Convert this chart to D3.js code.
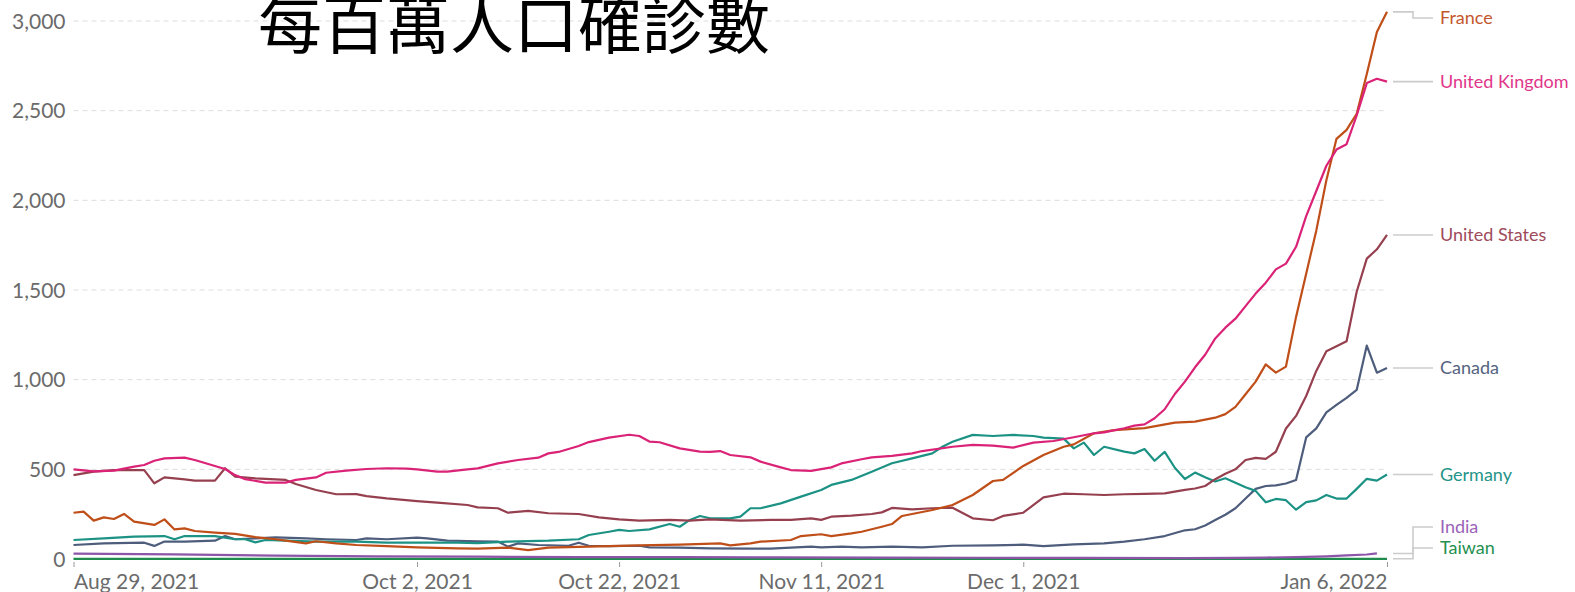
<!DOCTYPE html>
<html>
<head>
<meta charset="utf-8">
<script src="https://cdn.jsdelivr.net/npm/d3@7"></script>
<style>
  html, body { margin: 0; padding: 0; background: #fff; }
  svg { display: block; font-family: Lato, 'Noto Sans', sans-serif; }
</style>
</head>
<body>
<svg id="chart" width="1575" height="592"></svg>
<script>
  // dates are day offsets from START, values are cases per million
  var START = '2021-08-29';
  var END = '2022-01-06';

  var TITLE = '每百萬人口確診數';

  var tickDates = ['2021-08-29', '2021-10-02', '2021-10-22', '2021-11-11', '2021-12-01', '2022-01-06'];
  var yTicks = [0, 500, 1000, 1500, 2000, 2500, 3000];

  var countries = ['France', 'United Kingdom', 'United States', 'Canada', 'Germany', 'India', 'Taiwan'];

  var france = [[0,258],[1,264],[2,214],[3,232],[4,223],[5,251],[6,208],[8,190],[9,221],[10,165],[11,171],[12,156],
    [14,147],[16,140],[18,122],[20,110],[21,102],[23,87],[24,99],[26,87],[28,78],[31,72],[34,65],[38,59],[40,58],
    [43,63],[45,50],[47,63],[51,69],[53,72],[56,76],[60,80],[64,87],[65,76],[67,87],[68,97],[71,106],[72,128],
    [74,138],[75,128],[77,143],[78,152],[80,180],[81,195],[82,240],[85,273],[87,301],[89,357],[91,435],[92,441],
    [94,519],[96,580],[98,626],[99,639],[101,701],[103,719],[106,730],[109,760],[111,766],[113,788],[114,808],
    [115,848],[116,919],[117,989],[118,1085],[119,1039],[120,1073],[121,1350],[122,1591],[123,1831],[124,2112],
    [125,2343],[126,2393],[127,2483],[128,2704],[129,2939],[130,3051]];

  var uk = [[0,500],[2,489],[4,493],[6,515],[7,524],[8,548],[9,561],[11,565],[12,552],[13,535],[15,502],[16,468],
    [17,445],[19,426],[21,426],[22,441],[24,455],[25,481],[27,493],[29,502],[31,506],[33,504],[34,500],[36,487],
    [37,487],[39,500],[40,505],[42,533],[44,552],[46,565],[47,589],[48,597],[50,630],[51,652],[53,677],[55,693],
    [56,686],[57,655],[58,651],[60,617],[62,599],[63,597],[64,602],[65,580],[67,567],[68,543],[70,511],[71,496],
    [73,491],[75,511],[76,533],[78,556],[79,567],[81,575],[83,589],[84,602],[87,626],[89,636],[91,632],[93,621],
    [95,649],[97,658],[99,679],[101,701],[102,706],[104,729],[105,744],[106,751],[107,785],[108,835],[109,920],
    [110,989],[111,1069],[112,1139],[113,1230],[114,1290],[115,1340],[116,1410],[117,1480],[118,1541],[119,1615],
    [120,1647],[121,1741],[122,1912],[123,2052],[124,2193],[125,2283],[126,2313],[127,2473],[128,2654],[129,2678],
    [130,2662]];

  var us = [[0,468],[2,487],[4,496],[7,496],[8,422],[9,455],[11,444],[12,437],[14,437],[15,506],[16,459],[18,450],
    [21,441],[22,418],[24,385],[26,361],[28,362],[29,351],[31,338],[34,323],[36,314],[39,301],[40,288],[42,283],
    [43,258],[45,268],[47,255],[50,251],[52,232],[54,221],[56,214],[59,218],[61,214],[63,221],[66,214],[69,218],
    [71,218],[73,227],[74,218],[75,236],[77,242],[79,251],[80,260],[81,285],[83,277],[85,283],[87,286],[89,227],
    [91,216],[92,240],[94,258],[96,344],[98,364],[100,361],[102,357],[104,361],[106,363],[108,366],[110,385],
    [111,393],[112,407],[113,445],[114,475],[115,500],[116,552],[117,564],[118,558],[119,598],[120,728],[121,798],
    [122,909],[123,1049],[124,1159],[125,1186],[126,1214],[127,1490],[128,1675],[129,1727],[130,1807]];

  var canada = [[0,78],[3,87],[7,91],[8,73],[9,97],[11,97],[14,102],[15,128],[16,110],[18,115],[20,121],[23,115],
    [25,110],[28,106],[29,115],[31,110],[34,119],[35,115],[37,102],[40,99],[42,97],[43,69],[44,87],[46,78],[49,74],
    [50,91],[51,74],[53,72],[56,74],[57,65],[60,63],[63,59],[67,58],[69,58],[71,63],[73,69],[74,65],[76,69],[78,65],
    [81,69],[84,65],[87,74],[91,76],[94,80],[96,72],[99,82],[102,87],[104,97],[106,110],[108,128],[110,160],
    [111,166],[112,187],[113,217],[114,247],[115,283],[116,337],[117,391],[118,407],[119,411],[120,421],[121,441],
    [122,678],[123,728],[124,818],[125,859],[126,899],[127,943],[128,1190],[129,1039],[130,1065]];

  var germany = [[0,106],[3,115],[6,125],[9,128],[10,110],[11,128],[14,128],[16,110],[17,110],[18,93],[19,106],
    [21,102],[24,97],[28,97],[31,91],[34,91],[38,91],[40,89],[43,97],[47,102],[50,110],[51,134],[53,152],[54,162],
    [55,156],[57,165],[59,195],[60,180],[61,218],[62,240],[63,227],[65,227],[66,236],[67,283],[68,283],[70,310],
    [72,348],[74,385],[75,413],[77,441],[79,487],[81,534],[83,561],[85,589],[86,626],[87,654],[89,692],[91,686],
    [93,692],[95,686],[96,677],[98,671],[99,617],[100,649],[101,580],[102,626],[104,599],[105,589],[106,613],
    [107,548],[108,597],[109,509],[110,446],[111,482],[112,456],[113,432],[114,450],[115,425],[116,400],[117,380],
    [118,316],[119,335],[120,328],[121,275],[122,317],[123,327],[124,357],[125,337],[126,337],[127,391],[128,447],
    [129,437],[130,471]];

  var india = [[0,30],[10,26],[20,19],[30,15],[40,13],[50,11],[60,10],[70,9],[80,8],[90,7],[100,6],[110,5],
    [115,6],[118,8],[121,11],[124,15],[126,20],[128,25],[129,31]];

  var taiwan = [[0,0.4],[30,0.3],[60,0.3],[90,0.5],[110,0.6],[130,1.2]];

  var seriesValues = [france, uk, us, canada, germany, india, taiwan];
  var colors = ['#BF4E18', '#DA2377', '#96404F', '#4E5D7C', '#1C9285', '#8D55A8', '#1F8C4E'];
  var labelColors = ['#C4582C', '#E0368A', '#9E4B5B', '#55637F', '#249487', '#9A62B8', '#24904F'];

  var svg = d3.select('#chart'),
      margin = { left: 73.5, right: 188, top: 21, bottom: 33 },
      width = 1575,
      height = 592,
      parse = d3.utcParse('%Y-%m-%d'),
      start = parse(START),
      dayOf = function(d) { return d3.utcDay.offset(start, d[0]); };

  var x = d3.scaleUtc()
        .domain([start, parse(END)])
        .range([margin.left, width - margin.right]),

      y = d3.scaleLinear()
        .domain([0, 3000])
        .range([height - margin.bottom, margin.top]);

  // gridlines
  svg.append('g')
    .attr('class', 'grid')
    .selectAll('line')
    .data(yTicks)
    .enter()
      .append('line')
      .attr('x1', x.range()[0])
      .attr('x2', x.range()[1])
      .attr('y1', function(d) { return y(d); })
      .attr('y2', function(d) { return y(d); })
      .attr('stroke', '#dddddd')
      .attr('stroke-width', 1)
      .attr('stroke-dasharray', '5,4');

  // y axis labels
  var yAxis = svg.append('g')
    .attr('transform', 'translate(' + (margin.left - 8) + ',0)')
    .call(d3.axisLeft(y).tickValues(yTicks).tickFormat(d3.format(',')).tickSize(0));
  yAxis.select('.domain').remove();
  yAxis.selectAll('text')
    .attr('x', 0)
    .attr('dy', '0.34em')
    .attr('fill', '#6b6b6b')
    .style('font-family', 'Lato')
    .style('font-size', '21px');

  // x axis
  var xAxis = svg.append('g')
    .attr('transform', 'translate(0,' + (y(0) + 3) + ')')
    .call(d3.axisBottom(x)
      .tickValues(tickDates.map(parse))
      .tickFormat(d3.utcFormat('%b %-d, %Y'))
      .tickSize(5)
      .tickPadding(7));
  xAxis.select('.domain').remove();
  xAxis.selectAll('.tick line').attr('stroke', '#999');
  xAxis.selectAll('text')
    .attr('fill', '#6b6b6b')
    .style('font-family', 'Lato')
    .style('font-size', '21px')
    .attr('text-anchor', function(d, i) {
      if (i === 0) return 'start';
      if (i === tickDates.length - 1) return 'end';
      return 'middle';
    });

  // lines
  var line = d3.line()
    .x(function(d) { return x(dayOf(d)); })
    .y(function(d) { return y(d[1]); });

  var order = [6, 5, 3, 4, 2, 0, 1];
  svg.append('g')
    .attr('class', 'lines')
    .selectAll('path')
    .data(order)
    .enter()
      .append('path')
      .attr('d', function(i) { return line(seriesValues[i]); })
      .attr('fill', 'none')
      .attr('stroke', function(i) { return colors[i]; })
      .attr('stroke-width', 2.2)
      .attr('stroke-linejoin', 'round');

  // end labels, nudged apart
  var labels = countries.map(function(name, i) {
    var vals = seriesValues[i];
    var yEnd = y(vals[vals.length - 1][1]);
    return { name: name, i: i, y0: yEnd, y: yEnd };
  });
  var gap = 21, minY = 18, maxY = 548;
  labels.sort(function(a, b) { return a.y - b.y; });
  labels.forEach(function(l, k) {
    l.y = Math.max(minY, Math.min(maxY, l.y));
    if (k > 0 && l.y < labels[k - 1].y + gap) l.y = labels[k - 1].y + gap;
  });
  for (var k = labels.length - 1; k >= 0; k--) {
    if (k === labels.length - 1) labels[k].y = Math.min(labels[k].y, maxY);
    else if (labels[k].y > labels[k + 1].y - gap) labels[k].y = labels[k + 1].y - gap;
  }

  var lx0 = x.range()[1] + 6, lx1 = lx0 + 40, stepX = lx0 + 20;
  var lab = svg.append('g').attr('class', 'labels');

  lab.selectAll('path')
    .data(labels)
    .enter()
      .append('path')
      .attr('d', function(d) {
        return 'M' + lx0 + ',' + d.y0 + 'H' + stepX + 'V' + d.y + 'H' + lx1;
      })
      .attr('fill', 'none')
      .attr('stroke', '#cccccc')
      .attr('stroke-width', 1.6);

  lab.selectAll('text')
    .data(labels)
    .enter()
      .append('text')
      .attr('x', lx1 + 7)
      .attr('y', function(d) { return d.y; })
      .attr('dy', '0.35em')
      .attr('fill', function(d) { return labelColors[d.i]; })
      .style('font-family', 'Lato')
      .style('font-size', '18px')
      .text(function(d) { return d.name; });

  // title, partly cut off at the top like the source
  svg.append('text')
    .attr('x', 258)
    .attr('y', 48)
    .attr('fill', '#000')
    .style('font-family', "'Noto Sans CJK TC', 'Noto Sans CJK SC', sans-serif")
    .style('font-size', '64px')
    .text(TITLE);
</script>
</body>
</html>
